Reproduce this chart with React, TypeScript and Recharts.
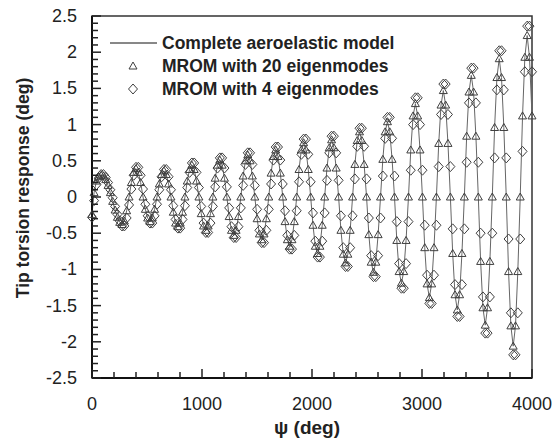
import React from 'react';
import { ComposedChart, Line, XAxis, YAxis, ReferenceArea, Legend } from 'recharts';

// rotor azimuth (deg), one sample roughly every 21 deg
const psi = [
  0, 19, 40, 61, 83, 104, 125, 146, 167, 188, 210, 231, 252,
  273, 294, 315, 337, 358, 379, 400, 421, 442, 464, 485, 506,
  527, 548, 569, 591, 612, 633, 654, 675, 696, 718, 739, 760,
  781, 802, 823, 845, 866, 887, 908, 929, 950, 972, 993, 1014,
  1035, 1056, 1077, 1099, 1120, 1141, 1162, 1183, 1204, 1226, 1247, 1268,
  1289, 1310, 1331, 1353, 1374, 1395, 1416, 1437, 1458, 1480, 1501, 1522,
  1543, 1564, 1585, 1607, 1628, 1649, 1670, 1691, 1712, 1734, 1755, 1776,
  1797, 1818, 1839, 1861, 1882, 1903, 1924, 1945, 1966, 1988, 2009, 2030,
  2051, 2072, 2093, 2115, 2136, 2157, 2178, 2199, 2220, 2242, 2263, 2284,
  2305, 2326, 2347, 2369, 2390, 2411, 2432, 2453, 2474, 2496, 2517, 2538,
  2559, 2580, 2601, 2623, 2644, 2665, 2686, 2707, 2728, 2750, 2771, 2792,
  2813, 2834, 2855, 2877, 2898, 2919, 2940, 2961, 2982, 3004, 3025, 3046,
  3067, 3088, 3109, 3131, 3152, 3173, 3194, 3215, 3236, 3258, 3279, 3300,
  3321, 3342, 3363, 3385, 3406, 3427, 3448, 3469, 3490, 3512, 3533, 3554,
  3575, 3596, 3617, 3639, 3660, 3681, 3702, 3723, 3744, 3766, 3787, 3808,
  3829, 3850, 3871, 3893, 3914, 3935, 3956, 3977, 4000,
];

// complete aeroelastic model (deg)
const complete = [
  -0.24, 0.06, 0.22, 0.28, 0.3, 0.29, 0.24, 0.16, 0.06, -0.06, -0.18, -0.28, -0.35,
  -0.38, -0.33, -0.19, 0, 0.2, 0.34, 0.39, 0.34, 0.2, 0, -0.17, -0.29,
  -0.34, -0.29, -0.17, 0, 0.18, 0.31, 0.36, 0.31, 0.18, 0, -0.21, -0.36,
  -0.41, -0.36, -0.21, 0, 0.22, 0.38, 0.44, 0.38, 0.22, 0, -0.23, -0.4,
  -0.46, -0.4, -0.23, 0, 0.26, 0.44, 0.51, 0.44, 0.26, 0, -0.27, -0.46,
  -0.53, -0.46, -0.27, 0, 0.29, 0.5, 0.58, 0.5, 0.29, 0, -0.3, -0.51,
  -0.59, -0.51, -0.3, 0, 0.33, 0.56, 0.65, 0.56, 0.33, 0, -0.34, -0.59,
  -0.68, -0.59, -0.34, 0, 0.38, 0.65, 0.75, 0.65, 0.38, 0, -0.39, -0.68,
  -0.78, -0.68, -0.39, 0, 0.4, 0.68, 0.79, 0.68, 0.4, 0, -0.46, -0.79,
  -0.91, -0.79, -0.46, 0, 0.45, 0.78, 0.9, 0.78, 0.45, 0, -0.52, -0.9,
  -1.04, -0.9, -0.52, 0, 0.52, 0.9, 1.04, 0.9, 0.52, 0, -0.6, -1.03,
  -1.19, -1.03, -0.6, 0, 0.65, 1.12, 1.29, 1.12, 0.65, 0, -0.7, -1.2,
  -1.39, -1.2, -0.7, 0, 0.74, 1.27, 1.47, 1.27, 0.74, 0, -0.78, -1.35,
  -1.56, -1.35, -0.78, 0, 0.84, 1.45, 1.68, 1.45, 0.84, 0, -0.89, -1.53,
  -1.77, -1.53, -0.89, 0, 0.96, 1.65, 1.91, 1.65, 0.96, 0, -1.03, -1.78,
  -2.06, -1.78, -1.03, 0, 1.12, 1.93, 2.23, 1.93, 1.12,
];

// MROM with 20 eigenmodes: indistinguishable from the full model at this scale
const mrom20 = complete;

// MROM with 4 eigenmodes: slightly larger swing, small phase lag
const mrom4 = [
  -0.28, -0.05, 0.17, 0.26, 0.31, 0.31, 0.27, 0.2, 0.1, -0.01, -0.13, -0.24, -0.33,
  -0.4, -0.4, -0.29, -0.11, 0.11, 0.3, 0.41, 0.41, 0.3, 0.11, -0.1, -0.26,
  -0.36, -0.36, -0.26, -0.1, 0.1, 0.28, 0.38, 0.38, 0.28, 0.1, -0.12, -0.31,
  -0.43, -0.43, -0.31, -0.12, 0.13, 0.34, 0.47, 0.47, 0.34, 0.13, -0.13, -0.36,
  -0.49, -0.49, -0.36, -0.13, 0.14, 0.4, 0.54, 0.54, 0.4, 0.14, -0.15, -0.41,
  -0.56, -0.56, -0.41, -0.15, 0.16, 0.45, 0.61, 0.61, 0.45, 0.16, -0.17, -0.46,
  -0.63, -0.63, -0.46, -0.17, 0.18, 0.51, 0.69, 0.69, 0.51, 0.18, -0.19, -0.53,
  -0.72, -0.72, -0.53, -0.19, 0.21, 0.59, 0.8, 0.8, 0.59, 0.21, -0.22, -0.61,
  -0.83, -0.83, -0.61, -0.22, 0.23, 0.61, 0.84, 0.84, 0.61, 0.23, -0.26, -0.7,
  -0.96, -0.96, -0.7, -0.26, 0.25, 0.7, 0.95, 0.95, 0.7, 0.25, -0.29, -0.81,
  -1.1, -1.1, -0.81, -0.29, 0.29, 0.81, 1.1, 1.1, 0.81, 0.29, -0.34, -0.92,
  -1.26, -1.26, -0.92, -0.34, 0.37, 1.0, 1.37, 1.37, 1.0, 0.37, -0.39, -1.08,
  -1.47, -1.47, -1.08, -0.39, 0.42, 1.14, 1.56, 1.56, 1.14, 0.42, -0.44, -1.21,
  -1.65, -1.65, -1.21, -0.44, 0.48, 1.3, 1.78, 1.78, 1.3, 0.48, -0.5, -1.38,
  -1.88, -1.88, -1.38, -0.5, 0.54, 1.48, 2.02, 2.02, 1.48, 0.54, -0.58, -1.6,
  -2.18, -2.18, -1.6, -0.58, 0.63, 1.73, 2.36, 2.36, 1.73,
];

const xTicks = [
  0, 200, 400, 600, 800, 1000, 1200, 1400, 1600, 1800, 2000,
  2200, 2400, 2600, 2800, 3000, 3200, 3400, 3600, 3800, 4000,
];
const yTicks = [
  -2.5, -2.4, -2.3, -2.2, -2.1, -2, -1.9, -1.8, -1.7, -1.6, -1.5, -1.4, -1.3, -1.2, -1.1,
  -1, -0.9, -0.8, -0.7, -0.6, -0.5, -0.4, -0.3, -0.2, -0.1, 0, 0.1, 0.2, 0.3, 0.4, 0.5,
  0.6, 0.7, 0.8, 0.9, 1, 1.1, 1.2, 1.3, 1.4, 1.5, 1.6, 1.7, 1.8, 1.9, 2, 2.1, 2.2, 2.3,
  2.4, 2.5,
];

const rows = psi.map((p, i) => ({
  psi: p,
  complete: complete[i],
  mrom20: mrom20[i],
  mrom4: mrom4[i],
}));

const FONT = '"Liberation Sans", Arial, sans-serif';
const INK = '#222';
const MARK = '#3f3f3f';

const triPath = (cx: number, cy: number) =>
  `M${cx},${cy - 4}L${cx + 4},${cy + 3}L${cx - 4},${cy + 3}Z`;
const diaPath = (cx: number, cy: number) =>
  `M${cx},${cy - 5}L${cx + 4.5},${cy}L${cx},${cy + 5}L${cx - 4.5},${cy}Z`;

const XTick = (props: any) => {
  const { x, y, payload } = props;
  const v = payload.value;
  const major = v % 1000 === 0;
  return (
    <g>
      <line x1={x} x2={x} y1={y} y2={y - (major ? 9 : 6)} stroke={INK} strokeWidth={1.5} />
      {major && (
        <text x={x} y={y + 32} textAnchor="middle" fontSize={18} fontFamily={FONT} fill={INK}>
          {v}
        </text>
      )}
    </g>
  );
};

const YTick = (props: any) => {
  const { x, y, payload } = props;
  const v = payload.value;
  const major = Math.abs(v * 2 - Math.round(v * 2)) < 1e-6;
  return (
    <g>
      <line x1={x} x2={x + (major ? 9 : 6)} y1={y} y2={y} stroke={INK} strokeWidth={1.5} />
      {major && (
        <text x={x - 15} y={y + 6} textAnchor="end" fontSize={18} fontFamily={FONT} fill={INK}>
          {String(v)}
        </text>
      )}
    </g>
  );
};

const XLabel = () => (
  <text x={307} y={434} textAnchor="middle" fontSize={19} fontWeight="bold" fontFamily={FONT} fill={INK}>
    ψ (deg)
  </text>
);

const YLabel = () => (
  <text
    x={23}
    y={188}
    transform="rotate(-90 23 188)"
    textAnchor="middle"
    dominantBaseline="central"
    fontSize={17.5}
    fontWeight="bold"
    fontFamily={FONT}
    fill={INK}
  >
    Tip torsion response (deg)
  </text>
);

const renderLegend = () => (
  <svg width={300} height={80} style={{ display: 'block' }}>
    <line x1={5} x2={52} y1={13} y2={13} stroke="#111" strokeWidth={1} />
    <path d={triPath(28, 36)} fill="none" stroke={MARK} strokeWidth={1} />
    <path d={diaPath(28, 59)} fill="none" stroke={MARK} strokeWidth={1} />
    <g fontSize={17.5} fontWeight="bold" fontFamily={FONT} fill={INK}>
      <text x={57} y={19}>Complete aeroelastic model</text>
      <text x={57} y={42}>MROM with 20 eigenmodes</text>
      <text x={57} y={65}>MROM with 4 eigenmodes</text>
    </g>
  </svg>
);

const App: React.FC = () => {
  return (
    <div style={{ position: 'absolute', left: 0, top: 0, width: 555, height: 447, background: '#fff' }}>
      <ComposedChart width={555} height={447} data={rows} margin={{ top: 16, right: 23, bottom: 0, left: 0 }}>
        <XAxis
          dataKey="psi"
          type="number"
          domain={[0, 4000]}
          ticks={xTicks}
          interval={0}
          height={69}
          tickSize={0}
          tickMargin={0}
          tickLine={false}
          tick={<XTick />}
          axisLine={{ stroke: '#111', strokeWidth: 2 }}
          label={<XLabel />}
        />
        <YAxis
          type="number"
          domain={[-2.5, 2.5]}
          ticks={yTicks}
          interval={0}
          width={92}
          tickSize={0}
          tickMargin={0}
          tickLine={false}
          tick={<YTick />}
          axisLine={{ stroke: '#111', strokeWidth: 2 }}
          label={<YLabel />}
        />
        <ReferenceArea x1={0} x2={4000} y1={-2.5} y2={2.5} fill="none" stroke="#333" strokeWidth={1.5} />
        <Legend
          layout="vertical"
          align="center"
          verticalAlign="middle"
          content={renderLegend}
          wrapperStyle={{ position: 'absolute', left: 105, top: 30, width: 300, height: 80 }}
        />
        <Line
          dataKey="complete"
          type="linear"
          stroke="#666"
          strokeWidth={1}
          dot={false}
          activeDot={false}
          isAnimationActive={false}
        />
        <Line
          dataKey="mrom4"
          type="linear"
          stroke="none"
          activeDot={false}
          isAnimationActive={false}
          dot={(p: any) => (
            <path key={`d-${p.index}`} d={diaPath(p.cx, p.cy)} fill="none" stroke={MARK} strokeWidth={1} />
          )}
        />
        <Line
          dataKey="mrom20"
          type="linear"
          stroke="none"
          activeDot={false}
          isAnimationActive={false}
          dot={(p: any) => (
            <path key={`t-${p.index}`} d={triPath(p.cx, p.cy)} fill="none" stroke={MARK} strokeWidth={1} />
          )}
        />
      </ComposedChart>
    </div>
  );
};

export default App;
